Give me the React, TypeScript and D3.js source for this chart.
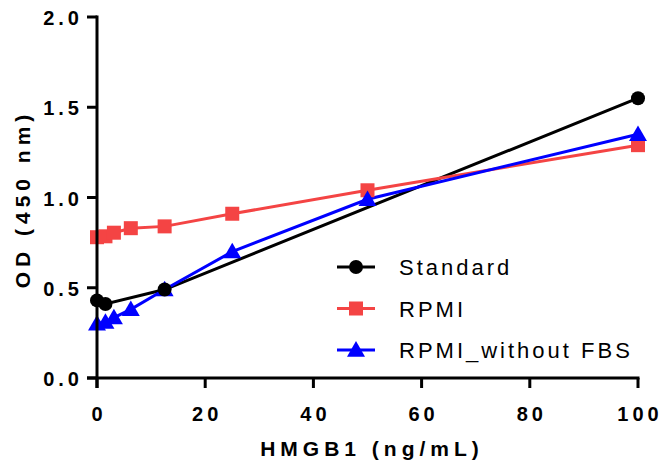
import React from "react";
import * as d3 from "d3";

const xStd = [0, 1.5625, 12.5, 100];
const yStd = [0.43, 0.41, 0.49, 1.55];
const xRpmi = [0, 1.5625, 3.125, 6.25, 12.5, 25, 50, 100];
const yRpmi = [0.78, 0.785, 0.805, 0.83, 0.84, 0.91, 1.04, 1.29];
const xNoFbs = [0, 1.5625, 3.125, 6.25, 12.5, 25, 50, 100];
const yNoFbs = [0.3, 0.31, 0.335, 0.38, 0.49, 0.7, 0.99, 1.35];
const xTicks = [0, 20, 40, 60, 80, 100];
const yTicks = [0, 0.5, 1.0, 1.5, 2.0];
const seriesNames = ["Standard", "RPMI", "RPMI_without FBS"];
const seriesColors = ["#000000", "#f44444", "#0000ff"];

const FONT = "'Liberation Sans', Arial, sans-serif";

export default function App() {
  const x = d3.scaleLinear().domain([0, 100]).range([97, 638]);
  const y = d3.scaleLinear().domain([0, 2]).range([378, 17]);
  const line = d3.line<[number, number]>().x((d) => x(d[0])).y((d) => y(d[1]));

  const series = [
    { xs: xStd, ys: yStd },
    { xs: xRpmi, ys: yRpmi },
    { xs: xNoFbs, ys: yNoFbs },
  ];

  const marker = (i: number, cx: number, cy: number, key: string) => {
    const c = seriesColors[i];
    if (i === 0) return <circle key={key} cx={cx} cy={cy} r={7} fill={c} />;
    if (i === 1) return <rect key={key} x={cx - 7} y={cy - 7} width={14} height={14} fill={c} />;
    const s = d3.symbol(d3.symbolTriangle, 140)();
    return <path key={key} d={s as string} transform={`translate(${cx},${cy + 1.5})`} fill={c} />;
  };

  return (
    <svg width={663} height={464} style={{ position: "absolute", left: 0, top: 0 }}>
      <rect width={663} height={464} fill="#fff" />
      {series.map((s, i) => (
        <path
          key={"l" + i}
          d={line(s.xs.map((v, j) => [v, s.ys[j]]) as [number, number][]) as string}
          fill="none"
          stroke={seriesColors[i]}
          strokeWidth={3}
        />
      ))}
      {[1, 2, 0].map((i) =>
        series[i].xs.map((v, j) => marker(i, x(v), y(series[i].ys[j]), `m${i}-${j}`))
      )}
      <g stroke="#000" strokeWidth={3} fill="none">
        <line x1={97} x2={97} y1={y(2) - 1.5} y2={388} />
        <line x1={87} x2={x(100) + 1.5} y1={378} y2={378} />
        {yTicks.map((t) => (
          <line key={"yt" + t} x1={87} x2={97} y1={y(t)} y2={y(t)} />
        ))}
        {xTicks.map((t) => (
          <line key={"xt" + t} x1={x(t)} x2={x(t)} y1={378} y2={388} />
        ))}
      </g>
      <g fontFamily={FONT} fontWeight="bold" fill="#000">
        {yTicks.map((t) => (
          <text key={"yl" + t} x={83} y={y(t) + 8} textAnchor="end" fontSize={20} letterSpacing={4}>
            {t.toFixed(1)}
          </text>
        ))}
        {xTicks.map((t) => (
          <text key={"xl" + t} x={x(t) + 2} y={421} textAnchor="middle" fontSize={20} letterSpacing={4}>
            {String(t)}
          </text>
        ))}
        <text x={372} y={456} textAnchor="middle" fontSize={21} letterSpacing={5}>
          HMGB1 (ng/mL)
        </text>
        <text
          transform={`translate(30,${199}) rotate(-90)`}
          textAnchor="middle"
          fontSize={21}
          letterSpacing={5}
        >
          OD (450 nm)
        </text>
      </g>
      {seriesNames.map((n, i) => {
        const ly = 267 + i * 41.5;
        return (
          <g key={"lg" + i}>
            <line x1={337} x2={375} y1={ly} y2={ly} stroke={seriesColors[i]} strokeWidth={3} />
            {marker(i, 356, ly, "lgm" + i)}
            <text
              x={399}
              y={ly + 8}
              fontFamily={FONT}
              fontSize={22}
              letterSpacing={3}
              fill="#000"
            >
              {n}
            </text>
          </g>
        );
      })}
    </svg>
  );
}
